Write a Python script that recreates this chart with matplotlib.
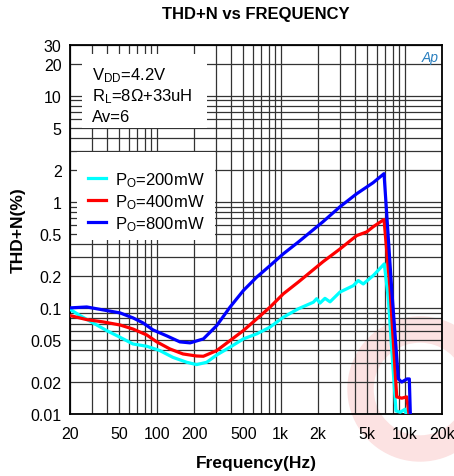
import matplotlib
matplotlib.use("Agg")
import matplotlib.pyplot as plt
from matplotlib.patches import Rectangle, Wedge
from matplotlib.ticker import LogLocator, NullFormatter

plt.rcParams['font.family'] = ['Liberation Sans', 'DejaVu Sans']
plt.rcParams['mathtext.default'] = 'regular'

### DATA ###

freq_200 = [20, 24.1, 30.8, 39.6, 50.6, 64.4, 83.1, 106, 135, 175, 210, 253, 305, 390, 500,
            641, 820, 1050, 1387, 1833, 1950, 2076, 2276, 2500, 3008, 3855, 4227, 4637, 5586,
            6850, 7380, 7860, 8511, 9207, 10070, 10380]
thd_200 = [0.097, 0.0846, 0.072, 0.061, 0.0529, 0.0457, 0.0435, 0.0396, 0.0342, 0.0307, 0.0292,
           0.0307, 0.036, 0.0426, 0.051, 0.0569, 0.0658, 0.0817, 0.098, 0.113, 0.122, 0.111,
           0.123, 0.114, 0.141, 0.162, 0.181, 0.168, 0.202, 0.26, 0.122, 0.041, 0.0107, 0.0104,
           0.0111, 0.0095]

freq_400 = [20, 27.3, 36.9, 50.6, 64.4, 83.1, 100, 128, 163, 210, 238, 305, 390, 500, 641, 820,
            1050, 1387, 2193, 3008, 4103, 4945, 5557, 6816, 7620, 8626, 9463, 10380, 10900]
thd_400 = [0.0846, 0.0775, 0.0738, 0.069, 0.0632, 0.0556, 0.0479, 0.041, 0.0368, 0.0352, 0.035,
           0.0396, 0.0491, 0.0611, 0.0787, 0.1015, 0.1356, 0.175, 0.272, 0.359, 0.48, 0.52, 0.58,
           0.68, 0.151, 0.0145, 0.0141, 0.0145, 0.0095]

freq_800 = [20, 27.3, 36.9, 50.6, 64.4, 77.6, 93.4, 121, 154, 186, 238, 305, 390, 500, 641,
            820, 1050, 1387, 2193, 3008, 4103, 5557, 6816, 7860, 8890, 9463, 10446, 10900, 11120]
thd_800 = [0.1, 0.102, 0.0957, 0.0897, 0.0805, 0.0722, 0.062, 0.0544, 0.0478, 0.0468, 0.051,
           0.0681, 0.1015, 0.1456, 0.195, 0.25, 0.323, 0.417, 0.648, 0.897, 1.19, 1.51, 1.84,
           0.15, 0.0214, 0.020, 0.0214, 0.0214, 0.0096]

series_labels = ['P$_O$=200mW', 'P$_O$=400mW', 'P$_O$=800mW']
series_colors = ['#00ffff', '#ff0000', '#0000ff']

x_ticks = [20, 50, 100, 200, 500, 1000, 2000, 5000, 10000, 20000]
x_tick_labels = ['20', '50', '100', '200', '500', '1k', '2k', '5k', '10k', '20k']
y_ticks = [0.01, 0.02, 0.05, 0.1, 0.2, 0.5, 1, 2, 5, 10, 20, 30]
y_tick_labels = ['0.01', '0.02', '0.05', '0.1', '0.2', '0.5', '1', '2', '5', '10', '20', '30']

conditions = ['V$_{DD}$=4.2V', 'R$_L$=8\u03a9+33uH', 'Av=6']

### FIGURE ###

fig = plt.figure(figsize=(4.54, 4.77), dpi=100)
ax = fig.add_axes([70 / 454, 62 / 477, 372 / 454, 369 / 477])
ax.set_facecolor('none')

# faint watermark behind the chart
fig.patches.append(Wedge((420, 477 - 390), 72, 35, 325, width=25, color='#fce2e2',
                         transform=None, zorder=-1))

for f, v, lab, c in zip([freq_200, freq_400, freq_800], [thd_200, thd_400, thd_800],
                        series_labels, series_colors):
    ax.plot(f, v, color=c, lw=2.3, label=lab, zorder=3)

ax.set_xscale('log')
ax.set_yscale('log')
ax.set_xlim(20, 20000)
ax.set_ylim(0.01, 30)

ax.set_xticks(x_ticks)
ax.set_xticklabels(x_tick_labels)
ax.set_yticks(y_ticks)
ax.set_yticklabels(y_tick_labels)
ax.xaxis.set_minor_locator(LogLocator(base=10, subs=range(1, 10), numticks=20))
ax.yaxis.set_minor_locator(LogLocator(base=10, subs=range(1, 10), numticks=20))
ax.xaxis.set_minor_formatter(NullFormatter())
ax.yaxis.set_minor_formatter(NullFormatter())
ax.tick_params(which='both', length=0, labelsize=11.5)
ax.tick_params(axis='x', pad=9)
ax.tick_params(axis='y', pad=6)

ax.set_axisbelow(True)
ax.grid(True, which='both', color='0.2', lw=0.9)
for s in ax.spines.values():
    s.set_linewidth(1.3)
    s.set_color('black')

# white boxes for the conditions text and the legend
ax.add_patch(Rectangle((12 / 372, (415 - 129) / 369), 125 / 372, 74 / 369,
                       transform=ax.transAxes, facecolor='white', edgecolor='none', zorder=1))
ax.add_patch(Rectangle((7 / 372, (415 - 241) / 369), 138 / 372, 88 / 369,
                       transform=ax.transAxes, facecolor='white', edgecolor='none', zorder=1))

for i, txt in enumerate(conditions):
    ax.text(22 / 372, (415 - 80 - 21 * i) / 369, txt, transform=ax.transAxes,
            fontsize=12, va='baseline', ha='left', zorder=4)

ax.legend(loc='upper left', bbox_to_anchor=(18 / 372, (415 - 171) / 369), frameon=False,
          fontsize=12, handlelength=1.1, handletextpad=0.5, labelspacing=0.2,
          borderpad=0, borderaxespad=0)

ax.text((430 - 70) / 372, (415 - 58) / 369, 'Ap', transform=ax.transAxes, fontsize=10,
        style='italic', color='#2a7fbf', ha='center', va='center', zorder=4)

fig.text(256 / 454, 1 - 14 / 477, 'THD+N vs FREQUENCY', fontsize=12, fontweight='bold',
         ha='center', va='center')
fig.text(256 / 454, 1 - 464 / 477, 'Frequency(Hz)', fontsize=12.5, fontweight='bold',
         ha='center', va='center')
fig.text(18 / 454, 1 - 230 / 477, 'THD+N(%)', fontsize=12.5, fontweight='bold',
         ha='center', va='center', rotation=90)

fig.savefig('out.png', dpi=100)
